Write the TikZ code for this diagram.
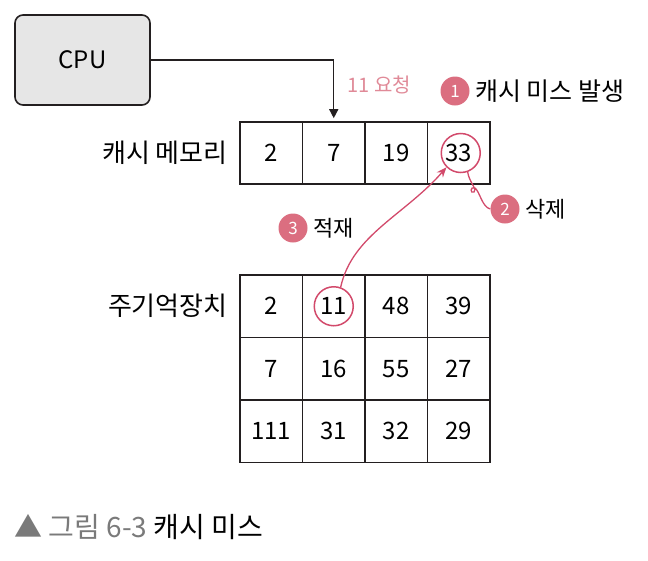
\documentclass[tikz,border=0pt]{standalone}
\usepackage{fontspec}
\setmainfont{Noto Sans CJK KR}
\usetikzlibrary{arrows.meta,positioning,calc}
\definecolor{cpugray}{HTML}{E6E6E6}
\definecolor{ink}{HTML}{231F20}
\definecolor{misspink}{HTML}{D24A6B}
\definecolor{badgepink}{HTML}{DB6E80}
\definecolor{notepink}{HTML}{E08A98}
\definecolor{captgray}{HTML}{7A7A7A}

\begin{document}
\begin{tikzpicture}[x=1pt, y=-1pt, font=\fontsize{24}{28}\selectfont,
    cell/.style={draw=ink, line width=1.6pt, minimum width=62.5pt,
      minimum height=62.5pt, inner sep=0pt},
    badge/.style={circle, fill=badgepink, text=white, minimum size=29pt,
      inner sep=0pt, font=\fontsize{17}{20}\selectfont},
    note/.style={font=\fontsize{22}{26}\selectfont},
    rowlbl/.style={font=\fontsize{26}{30}\selectfont},
    hilite/.style={circle, draw=misspink, line width=1.5pt, minimum size=39pt},
    pinkline/.style={misspink, line width=1.3pt}]
  \useasboundingbox (0,0) rectangle (648,560);

  \node[draw=ink, fill=cpugray, rounded corners=8pt, line width=1.6pt,
    minimum width=135pt, minimum height=90pt] (cpu) at (82.5,60) {CPU};

  % cache row
  \foreach \v [count=\c] in {2,7,19,33}
    \node[cell, minimum height=62pt] (c\c) at (240+62.5*\c-31.25,153) {\v};
  \node[rowlbl, left=8pt of c1] (cachelbl) {캐시 메모리};

  % main memory
  \foreach \v [count=\c] in {2,11,48,39}
    \node[cell] (ma\c) at (240+62.5*\c-31.25,306.25) {\v};
  \foreach \v [count=\c] in {7,16,55,27}
    \node[cell] (mb\c) at (240+62.5*\c-31.25,368.75) {\v};
  \foreach \v [count=\c] in {111,31,32,29}
    \node[cell] (mc\c) at (240+62.5*\c-31.25,431.25) {\v};
  \node[rowlbl, left=8pt of ma1] (memlbl) {주기억장치};

  % request
  \draw[ink, line width=1.4pt, -{Triangle[length=9pt,width=9pt]}, shorten >=3pt]
    (cpu.east) -| (c2.north);
  \node[note, text=notepink, anchor=west, font=\fontsize{20}{24}\selectfont]
    (req) at (344,85) {11 요청};

  % miss, delete, load
  \node[badge] (b1) at (455,91) {1};
  \node[note, right=2pt of b1, font=\fontsize{25}{29}\selectfont] (misslbl) {캐시 미스 발생};
  \node[hilite] (h33) at ($(c4)+(2,0)$) {};
  \node[hilite] (h11) at (ma2) {};

  \node[badge] (b2) at (505,209) {2};
  \node[note, right=2pt of b2] (dellbl) {삭제};
  \draw[pinkline] (h33.290) .. controls (469,182) and (478,190) .. (474,192)
    .. controls (470,194) and (470,186) .. (475,188)
    .. controls (480,192) and (482,207) .. (b2.west);

  \node[badge] (b3) at (293,228) {3};
  \node[note, right=2pt of b3] (loadlbl) {적재};
  \draw[pinkline, -{Stealth[length=10pt,width=8pt]}]
    (h11.70) .. controls (352,235) and (405,215) .. (h33.225);

  \node[anchor=west, font=\fontsize{28}{32}\selectfont] (cap) at (11,527)
    {{\color{captgray}▲ 그림 6-3} 캐시 미스};
\end{tikzpicture}
\end{document}
